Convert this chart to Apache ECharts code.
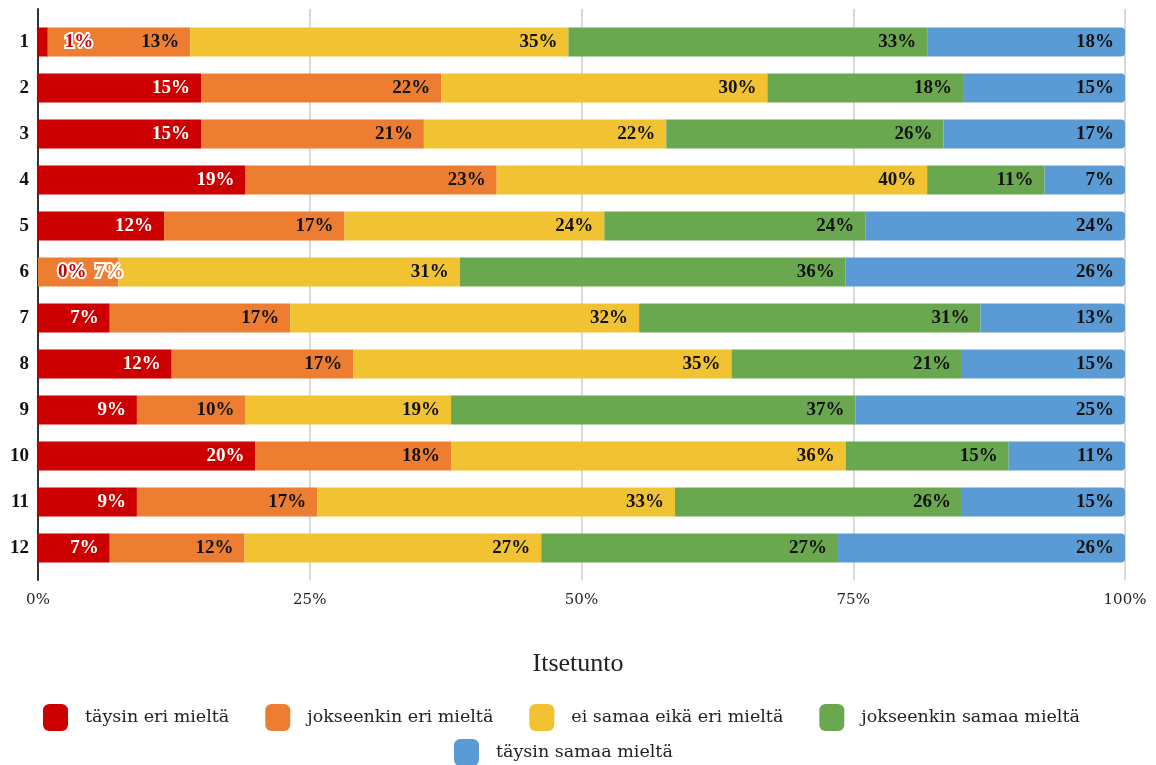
<!DOCTYPE html>
<html>
<head>
<meta charset="utf-8">
<script src="https://cdn.jsdelivr.net/npm/echarts@6/dist/echarts.min.js"></script>
<style>html,body{margin:0;padding:0;background:#fff}#c{width:1156px;height:765px}</style>
</head>
<body>
<div id="c"></div>
<script>
var categories = ['1','2','3','4','5','6','7','8','9','10','11','12'];
var seriesNames = ['täysin eri mieltä','jokseenkin eri mieltä','ei samaa eikä eri mieltä','jokseenkin samaa mieltä','täysin samaa mieltä'];
var tayEri   = [0.9, 15.0, 15.0, 19.1, 11.6, 0,    6.6, 12.3, 9.1, 20.0, 9.1, 6.6];
var jokEri   = [13.1, 22.1, 20.5, 23.1, 16.6, 7.4, 16.6, 16.7, 10.0, 18.0, 16.6, 12.4];
var eiSamaa  = [34.8, 30.0, 22.3, 39.6, 23.9, 31.4, 32.1, 34.8, 18.9, 36.3, 32.9, 27.3];
var jokSamaa = [33.0, 18.0, 25.5, 10.8, 24.0, 35.5, 31.4, 21.2, 37.2, 15.0, 26.4, 27.3];
var taySamaa = [18.2, 14.9, 16.7, 7.4, 23.9, 25.7, 13.3, 15.0, 24.8, 10.7, 15.0, 26.4];
var xTicks = [0, 25, 50, 75, 100];

var colors = ['#cc0000','#ed7d31','#f1c232','#6aa84f','#5b9bd5'];
var values = [tayEri, jokEri, eiSamaa, jokSamaa, taySamaa];
var FONT = 'Liberation Serif';
var FONT2 = 'DejaVu Serif';

// labels that don't fit inside their segment
var outside = {
  '0-0': {position:'right', distance:17, color:'#cc0000'},
  '0-5': {position:'right', distance:20, color:'#cc0000'},
  '1-5': {position:'insideRight', distance:-5, color:'#ed7d31'}
};

var series = values.map(function(arr, si){
  return {
    name: seriesNames[si],
    type: 'bar',
    stack: 'all',
    xAxisIndex: 0, yAxisIndex: 0,
    barWidth: 29,
    itemStyle: {color: colors[si], borderRadius: si === 4 ? [0,4,4,0] : 0},
    label: {
      show: true,
      position: 'insideRight',
      distance: 11,
      fontFamily: FONT, fontWeight: 'bold', fontSize: 19,
      color: si === 0 ? '#fff' : '#111',
      formatter: function(p){ return Math.round(p.value) + '%'; }
    },
    data: arr.map(function(v, ci){
      var o = outside[si + '-' + ci];
      if (!o) return v;
      return {value: v, label: {position: o.position, distance: o.distance, color: o.color,
        textBorderColor: '#fff', textBorderWidth: 4}};
    })
  };
});

var chart = echarts.init(document.getElementById('c'));
chart.setOption({
  animation: false,
  backgroundColor: '#fff',
  title: {text: 'Itsetunto', left: 'center', top: 646,
    textStyle: {fontFamily: FONT, fontWeight: 'normal', fontSize: 26, color: '#222'}},
  legend: [{
    data: seriesNames.slice(0,4), left: 38, top: 699, orient: 'horizontal',
    icon: 'roundRect', itemWidth: 25, itemHeight: 27, itemGap: 36,
    textStyle: {fontFamily: FONT2, fontSize: 17.5, color: '#222', padding: [0,0,0,12]}
  },{
    data: seriesNames.slice(4), left: 449, top: 734,
    icon: 'roundRect', itemWidth: 25, itemHeight: 27,
    textStyle: {fontFamily: FONT2, fontSize: 17.5, color: '#222', padding: [0,0,0,12]}
  }],
  grid: [
    {left: 38, right: 31, top: 19, bottom: 194},
    {left: 38, right: 31, top: 9, bottom: 185}
  ],
  xAxis: [
    {gridIndex: 0, type: 'value', min: 0, max: 100, show: false},
    {gridIndex: 1, type: 'value', min: 0, max: 100, interval: 25,
      axisLine: {show: false}, axisTick: {show: false},
      splitLine: {show: true, lineStyle: {color: '#cccccc', width: 1.5}},
      axisLabel: {margin: 13, fontFamily: FONT2, fontSize: 15, color: '#222',
        formatter: function(v){ return xTicks.indexOf(v) >= 0 ? v + '%' : ''; }}}
  ],
  yAxis: [
    {gridIndex: 0, type: 'category', data: categories, inverse: true,
      axisLine: {show: false}, axisTick: {show: false},
      axisLabel: {margin: 9, fontFamily: FONT, fontWeight: 'bold', fontSize: 19, color: '#111'}},
    {gridIndex: 1, type: 'value', min: 0, max: 1,
      axisLine: {show: true, lineStyle: {color: '#333', width: 2}},
      axisTick: {show: false}, axisLabel: {show: false}, splitLine: {show: false}}
  ],
  series: series
});
</script>
</body>
</html>
